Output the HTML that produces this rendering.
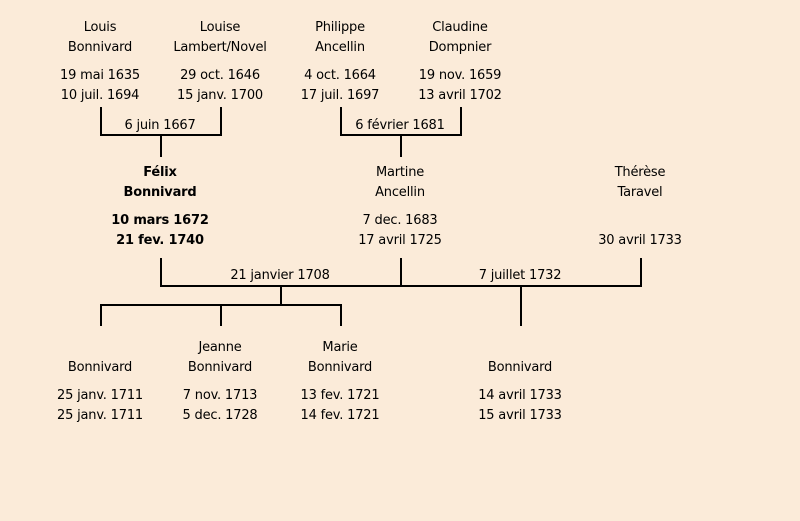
<!DOCTYPE html>
<html><head><meta charset="utf-8"><style>
html,body{margin:0;padding:0}
body{width:800px;height:521px;background:#fbebd9;position:relative;overflow:hidden;font-family:"DejaVu Sans","Liberation Sans",sans-serif;font-size:13px;color:#000}
.t{position:absolute;width:200px;margin-left:-100px;text-align:center;line-height:20px;white-space:nowrap;letter-spacing:-0.2px}
.b{font-weight:bold}
.h,.v{position:absolute;background:#000}
.h{height:2px}.v{width:2px}
</style></head><body>
<div class="t" style="left:100px;top:18px">Louis<br>Bonnivard</div>
<div class="t" style="left:100px;top:66px">19 mai 1635<br>10 juil. 1694</div>
<div class="t" style="left:220px;top:18px">Louise<br>Lambert/Novel</div>
<div class="t" style="left:220px;top:66px">29 oct. 1646<br>15 janv. 1700</div>
<div class="t" style="left:340px;top:18px">Philippe<br>Ancellin</div>
<div class="t" style="left:340px;top:66px">4 oct. 1664<br>17 juil. 1697</div>
<div class="t" style="left:460px;top:18px">Claudine<br>Dompnier</div>
<div class="t" style="left:460px;top:66px">19 nov. 1659<br>13 avril 1702</div>

<div class="v" style="left:100px;top:107px;height:29px"></div>
<div class="v" style="left:220px;top:107px;height:29px"></div>
<div class="h" style="left:100px;top:134px;width:122px"></div>
<div class="v" style="left:160px;top:134px;height:23px"></div>
<div class="t" style="left:160px;top:116px">6 juin 1667</div>

<div class="v" style="left:340px;top:107px;height:29px"></div>
<div class="v" style="left:460px;top:107px;height:29px"></div>
<div class="h" style="left:340px;top:134px;width:122px"></div>
<div class="v" style="left:400px;top:134px;height:23px"></div>
<div class="t" style="left:400px;top:116px">6 février 1681</div>

<div class="t b" style="left:160px;top:163px">Félix<br>Bonnivard</div>
<div class="t b" style="left:160px;top:211px">10 mars 1672<br>21 fev. 1740</div>
<div class="t" style="left:400px;top:163px">Martine<br>Ancellin</div>
<div class="t" style="left:400px;top:211px">7 dec. 1683<br>17 avril 1725</div>
<div class="t" style="left:640px;top:163px">Thérèse<br>Taravel</div>
<div class="t" style="left:640px;top:231px">30 avril 1733</div>

<div class="v" style="left:160px;top:258px;height:29px"></div>
<div class="v" style="left:400px;top:258px;height:29px"></div>
<div class="v" style="left:640px;top:258px;height:29px"></div>
<div class="h" style="left:160px;top:285px;width:482px"></div>
<div class="t" style="left:280px;top:266px">21 janvier 1708</div>
<div class="t" style="left:520px;top:266px">7 juillet 1732</div>
<div class="v" style="left:280px;top:285px;height:20px"></div>
<div class="h" style="left:100px;top:304px;width:242px"></div>
<div class="v" style="left:100px;top:304px;height:22px"></div>
<div class="v" style="left:220px;top:304px;height:22px"></div>
<div class="v" style="left:340px;top:304px;height:22px"></div>
<div class="v" style="left:520px;top:285px;height:41px"></div>

<div class="t" style="left:100px;top:358px">Bonnivard</div>
<div class="t" style="left:100px;top:386px">25 janv. 1711<br>25 janv. 1711</div>
<div class="t" style="left:220px;top:338px">Jeanne<br>Bonnivard</div>
<div class="t" style="left:220px;top:386px">7 nov. 1713<br>5 dec. 1728</div>
<div class="t" style="left:340px;top:338px">Marie<br>Bonnivard</div>
<div class="t" style="left:340px;top:386px">13 fev. 1721<br>14 fev. 1721</div>
<div class="t" style="left:520px;top:358px">Bonnivard</div>
<div class="t" style="left:520px;top:386px">14 avril 1733<br>15 avril 1733</div>
</body></html>
